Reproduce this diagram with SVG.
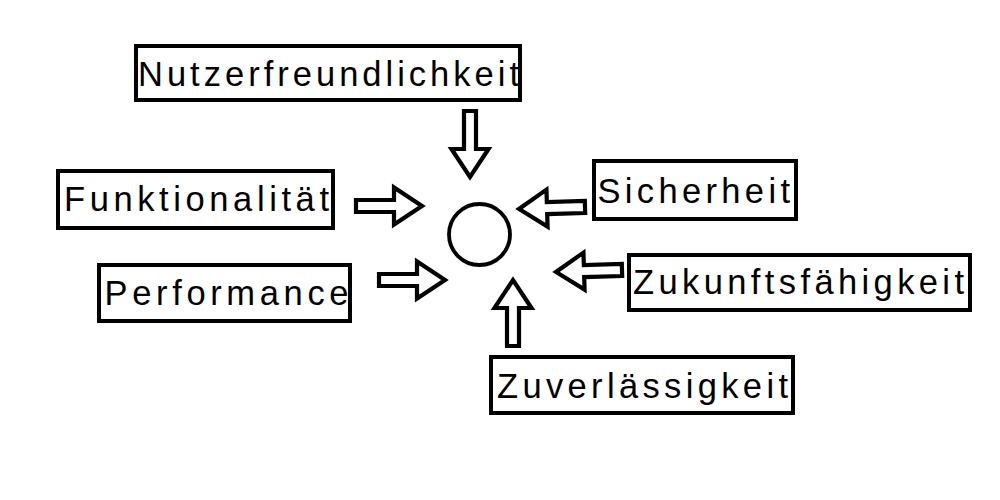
<svg xmlns="http://www.w3.org/2000/svg" width="1000" height="500" viewBox="0 0 1000 500">
  <style>
    .box { fill: #ffffff; stroke: #000000; stroke-width: 4; }
    .lbl { font-family: "Liberation Sans", Arial, sans-serif; font-size: 34.5px; fill: #000000; }
    .arr { fill: #ffffff; stroke: #000000; stroke-width: 4.2; stroke-linejoin: miter; stroke-miterlimit: 10; }
    .hub { fill: #ffffff; stroke: #000000; stroke-width: 3.8; }
  </style>
  <defs>
    <path id="arrow" d="M0,-6 H38 V-18.5 L66,0 L38,18.5 V6 H0 Z"/>
  </defs>
  <rect width="1000" height="500" fill="#ffffff"/>

  <g id="connectors">
    <use href="#arrow" class="arr" transform="translate(470,111) rotate(90)"/>
    <use href="#arrow" class="arr" transform="translate(356,206)"/>
    <use href="#arrow" class="arr" transform="translate(379,280)"/>
    <use href="#arrow" class="arr" transform="translate(585,207) rotate(178.3)"/>
    <use href="#arrow" class="arr" transform="translate(622,270) rotate(178.3)"/>
    <use href="#arrow" class="arr" transform="translate(513,346) rotate(-90)"/>
  </g>

  <g id="center">
    <circle class="hub" cx="479.5" cy="234.5" r="30.5"/>
  </g>

  <g id="nutzerfreundlichkeit">
    <rect class="box" x="136" y="46" width="384" height="54"/>
    <text class="lbl" x="138" y="85.5" textLength="381" lengthAdjust="spacing">Nutzerfreundlichkeit</text>
  </g>

  <g id="funktionalitaet">
    <rect class="box" x="58" y="171" width="275" height="57"/>
    <text class="lbl" x="64" y="211" textLength="265" lengthAdjust="spacing">Funktionalität</text>
  </g>

  <g id="performance">
    <rect class="box" x="99" y="265" width="251" height="56"/>
    <text class="lbl" x="104.5" y="305" textLength="244" lengthAdjust="spacing">Performance</text>
  </g>

  <g id="sicherheit">
    <rect class="box" x="594" y="161" width="202" height="58"/>
    <text class="lbl" x="597.5" y="202.5" textLength="192.5" lengthAdjust="spacing">Sicherheit</text>
  </g>

  <g id="zukunftsfaehigkeit">
    <rect class="box" x="629" y="255" width="341" height="55"/>
    <text class="lbl" x="633" y="293.5" textLength="331" lengthAdjust="spacing">Zukunftsfähigkeit</text>
  </g>

  <g id="zuverlaessigkeit">
    <rect class="box" x="491" y="357" width="302" height="56"/>
    <text class="lbl" x="497" y="397.5" textLength="291" lengthAdjust="spacing">Zuverlässigkeit</text>
  </g>
</svg>
